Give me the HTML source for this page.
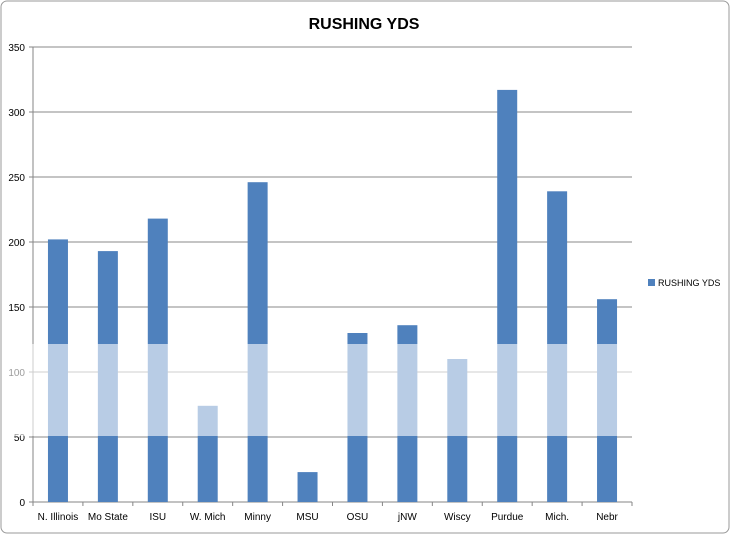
<!DOCTYPE html>
<html><head><meta charset="utf-8"><style>
body{margin:0;background:#fff;}
svg{display:block;font-family:"Liberation Sans",sans-serif;}
</style></head><body>
<svg id="chart" width="731" height="535">
<rect x="1" y="1" width="728" height="532" rx="6" fill="#fff" stroke="#9a9a9a"/>
<text x="364" y="29" text-anchor="middle" font-size="16" font-weight="bold">RUSHING YDS</text>
<g id="grid"></g><g id="bars"></g><g id="axes"></g>
<rect x="2" y="344" width="726" height="92" fill="#fff" opacity="0.6"/>
<rect x="648" y="279" width="7" height="7" fill="#4f81bd"/>
<text x="658" y="286" font-size="9">RUSHING YDS</text>
</svg>
<script>
const categories=["N. Illinois","Mo State","ISU","W. Mich","Minny","MSU","OSU","jNW","Wiscy","Purdue","Mich.","Nebr"];
const values=[202,193,218,74,246,23,130,136,110,317,239,156];
const ticks=[0,50,100,150,200,250,300,350];
const NS="http://www.w3.org/2000/svg";
const x0=33,x1=632,y0=502,y1=47,maxV=350;
const band=(x1-x0)/categories.length;
function yS(v){return y0-(v/maxV)*(y0-y1);}
function xC(i){return x0+band*(i+0.5);}
function mk(t,a,p){const e=document.createElementNS(NS,t);for(const k in a)e.setAttribute(k,a[k]);p.appendChild(e);return e;}
const g=document.getElementById('grid'),b=document.getElementById('bars'),ax=document.getElementById('axes');
ticks.forEach(t=>{
 const l=mk('line',{x1:x0,x2:x1,y1:yS(t),y2:yS(t),stroke:t===0?'#868686':'#888','stroke-width':1},g);
 
 
 const tx=mk('text',{x:25,y:yS(t)+4,'text-anchor':'end','font-size':10},ax);
 tx.textContent=t;
 
 
});
values.forEach((v,i)=>{
 const r=mk('rect',{x:xC(i)-10,y:yS(v),width:20,height:y0-yS(v),fill:'#4f81bd'},b);
 
 
 const tx=mk('text',{x:xC(i),y:520,'text-anchor':'middle','font-size':10},ax);
 tx.textContent=categories[i];
 
 
});
for(let i=0;i<=categories.length;i++){
 const l=mk('line',{x1:x0+band*i,x2:x0+band*i,y1:y0,y2:y0+4,stroke:'#868686'},ax);
 
 
}
const ya=mk('line',{x1:x0,x2:x0,y1:y1,y2:y0,stroke:'#868686'},ax);


for(const t of ticks){const l=mk('line',{x1:x0-4,x2:x0,y1:yS(t),y2:yS(t),stroke:'#868686'},ax);
 
 }
</script>
</body></html>
